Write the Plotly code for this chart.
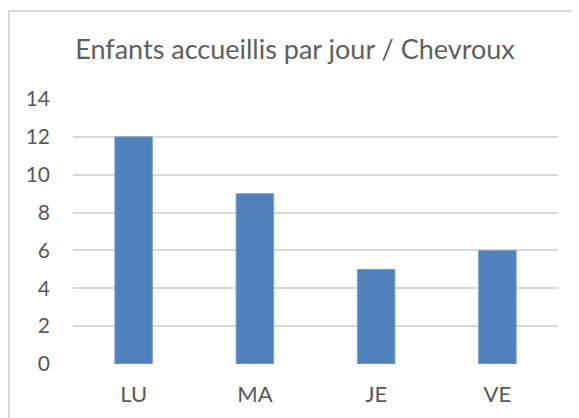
import plotly.graph_objects as go

categories = ["LU", "MA", "JE", "VE"]
values = [12, 9, 5, 6]
y_ticks = [0, 2, 4, 6, 8, 10, 12, 14]
title_text = "Enfants accueillis par jour / Chevroux"

FONT = "Lato, 'Open Sans', sans-serif"
TXT = "#595959"

fig = go.Figure(go.Bar(
    x=categories, y=values,
    marker=dict(color="#4F81BD", line=dict(color="#7FA3D1", width=1)),
    width=0.31,
))

OFF = 8  # page offset of the plot div
W, H = 579, 418
L, T = 73 - OFF, 99 - OFF
R = W - (558 - OFF)
B = H - (364 - OFF)
pw, ph = W - L - R, H - T - B

def px_x(sx):
    return (sx - OFF - L) / pw

def px_y(sy):
    return (H - B - (sy - OFF)) / ph

fig.update_layout(
    width=W, height=H,
    margin=dict(l=L, r=R, t=T, b=B),
    paper_bgcolor="white", plot_bgcolor="white",
    showlegend=False,
    title=dict(text=title_text, x=px_x(295), xref="paper", xanchor="center",
               y=1 - (50 - OFF) / H, yanchor="middle",
               font=dict(family=FONT, size=27, color="#606060")),
    font=dict(family=FONT, color=TXT),
    xaxis=dict(showgrid=False, showline=False, zeroline=False,
               tickfont=dict(size=22, color=TXT), ticklabelstandoff=15),
    yaxis=dict(range=[0, 14], tickvals=y_ticks, showgrid=True, gridcolor="#D9D9D9",
               gridwidth=1.5, zeroline=False, showline=False,
               tickfont=dict(size=21, color=TXT), ticklabelstandoff=22),
    shapes=[
        dict(type="line", xref="paper", yref="paper",
             x0=px_x(9), x1=px_x(W + 20), y0=px_y(11), y1=px_y(11),
             line=dict(color="#D9D9D9", width=2)),
        dict(type="line", xref="paper", yref="paper",
             x0=px_x(9), x1=px_x(9), y0=px_y(11), y1=px_y(H + 30),
             line=dict(color="#D9D9D9", width=2)),
    ],
)

fig.write_html("out.html")
